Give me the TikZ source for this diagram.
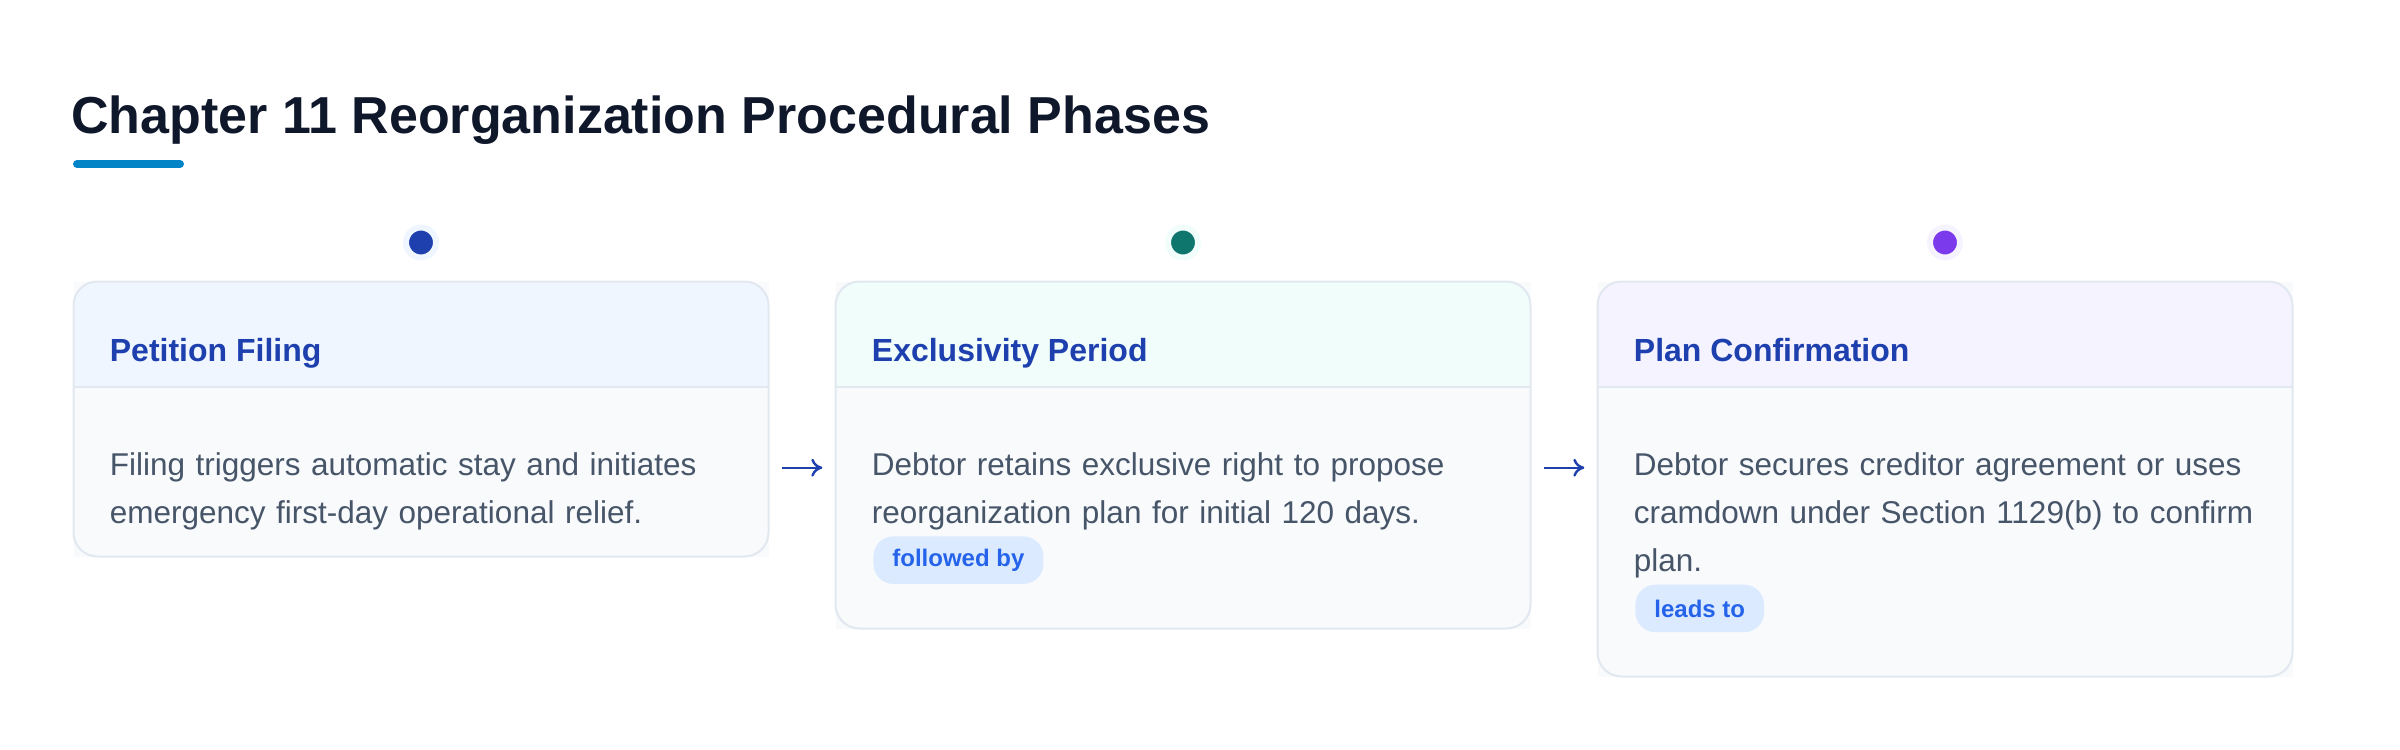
\documentclass[tikz,border=0pt]{standalone}
\usepackage{fontspec}
\setmainfont{Liberation Sans}
\usetikzlibrary{arrows.meta}

\definecolor{r15g23b42}{RGB}{15,23,42}%
\definecolor{r2g132b199}{RGB}{2,132,199}%
\definecolor{r226g232b240}{RGB}{226,232,240}%
\definecolor{r248g250b252}{RGB}{248,250,252}%
\definecolor{r239g246b255}{RGB}{239,246,255}%
\definecolor{r240g253b250}{RGB}{240,253,250}%
\definecolor{r245g243b255}{RGB}{245,243,255}%
\definecolor{r30g64b175}{RGB}{30,64,175}%
\definecolor{r15g118b110}{RGB}{15,118,110}%
\definecolor{r124g58b237}{RGB}{124,58,237}%
\definecolor{r71g85b105}{RGB}{71,85,105}%
\definecolor{r219g234b254}{RGB}{219,234,254}%
\definecolor{r37g99b235}{RGB}{37,99,235}%

\begin{document}
\begin{tikzpicture}[x=0.5pt,y=-0.5pt,
    titletext/.style={anchor=base west, inner sep=0pt, text=r15g23b42, font=\fontsize{26}{30}\selectfont\bfseries},
    cardbox/.style={rectangle, inner sep=0pt, outer sep=0pt, minimum width=347.5pt, anchor=north west, fill=r248g250b252},
    cardline/.style={draw=r226g232b240, line width=1pt, rounded corners=12pt},
    hdrline/.style={draw=r226g232b240, line width=1pt},
    hdrtext/.style={anchor=base west, inner sep=0pt, text=r30g64b175, font=\fontsize{16}{19}\selectfont\bfseries},
    bodytext/.style={anchor=north west, inner sep=0pt, text=r71g85b105, align=left, text width=330pt, font=\fontsize{15.75}{24}\selectfont, execute at begin node=\rule{0pt}{12pt}},
    tagbox/.style={anchor=north west, fill=r219g234b254, text=r37g99b235, rounded corners=10pt, inner xsep=9.5pt, inner ysep=0pt, minimum height=23.75pt, font=\fontsize{12}{14}\selectfont\bfseries},
    phasedot/.style={circle, inner sep=0pt, minimum size=15pt, line width=3pt},
    flow/.style={draw=r30g64b175, line width=1.2pt, shorten <=6.6pt, shorten >=6.6pt, -{Computer Modern Rightarrow[length=5.5pt,width=9pt]}}]
                        \useasboundingbox (0,0) rectangle (2400,750);

                        % Title and its bar
                        \draw (71.000000,133.300000) node [titletext] (title) {Chapter 11 Reorganization Procedural Phases};%
                        \draw [line width=4pt, line cap=round, r2g132b199] (77.000000,164.000000) -- (180.000000,164.000000);%

                        % Drawing card 1
                        \node [cardbox, minimum height=137.5pt] (c1) at (73.500000,281.500000) {};%
                        \begin{scope}
                        \clip [rounded corners=12pt] (c1.north west) rectangle (c1.south east);%
                        \fill [r239g246b255] (c1.north west) rectangle ([yshift=-52.5pt]c1.north east);%
                        \end{scope}
                        \draw [hdrline] ([yshift=-52.5pt]c1.north west) -- ([yshift=-52.5pt]c1.north east);%
                        \draw [cardline] (c1.north west) rectangle (c1.south east);%

                        % Drawing card 2
                        \node [cardbox, minimum height=173.5pt] (c2) at (835.500000,281.500000) {};%
                        \begin{scope}
                        \clip [rounded corners=12pt] (c2.north west) rectangle (c2.south east);%
                        \fill [r240g253b250] (c2.north west) rectangle ([yshift=-52.5pt]c2.north east);%
                        \end{scope}
                        \draw [hdrline] ([yshift=-52.5pt]c2.north west) -- ([yshift=-52.5pt]c2.north east);%
                        \draw [cardline] (c2.north west) rectangle (c2.south east);%

                        % Drawing card 3
                        \node [cardbox, minimum height=197.5pt] (c3) at (1597.500000,281.500000) {};%
                        \begin{scope}
                        \clip [rounded corners=12pt] (c3.north west) rectangle (c3.south east);%
                        \fill [r245g243b255] (c3.north west) rectangle ([yshift=-52.5pt]c3.north east);%
                        \end{scope}
                        \draw [hdrline] ([yshift=-52.5pt]c3.north west) -- ([yshift=-52.5pt]c3.north east);%
                        \draw [cardline] (c3.north west) rectangle (c3.south east);%

                        % Marking the phase dots
                        \path (c1.north) ++(0,-39) node [phasedot, fill=r30g64b175, draw=r239g246b255] (d1) {};%
                        \path (c2.north) ++(0,-39) node [phasedot, fill=r15g118b110, draw=r240g253b250] (d2) {};%
                        \path (c3.north) ++(0,-39) node [phasedot, fill=r124g58b237, draw=r245g243b255] (d3) {};%

                        % Card headings
                        \draw ([xshift=18pt,yshift=-40.1pt]c1.north west) node [hdrtext] (h1) {Petition Filing};%
                        \draw ([xshift=18pt,yshift=-40.1pt]c2.north west) node [hdrtext] (h2) {Exclusivity Period};%
                        \draw ([xshift=18pt,yshift=-40.1pt]c3.north west) node [hdrtext] (h3) {Plan Confirmation};%

                        % Card texts
                        \draw ([xshift=18pt,yshift=-84.75pt]c1.north west) node [bodytext] (b1) {Filing triggers automatic stay and initiates\\emergency first-day operational relief.};%
                        \draw ([xshift=18pt,yshift=-84.75pt]c2.north west) node [bodytext] (b2) {Debtor retains exclusive right to propose\\reorganization plan for initial 120 days.};%
                        \draw ([xshift=18pt,yshift=-84.75pt]c3.north west) node [bodytext] (b3) {Debtor secures creditor agreement or uses\\cramdown under Section 1129(b) to confirm\\plan.};%

                        % Tags
                        \draw ([xshift=18.75pt,yshift=-127.25pt]c2.north west) node [tagbox] (t2) {followed by};%
                        \draw ([xshift=18.75pt,yshift=-151.4pt]c3.north west) node [tagbox] (t3) {leads to};%

                        % Arrows between the cards
                        \coordinate (row) at (0,467.700000);%
                        \draw [flow] (c1.east |- row) -- (c2.west |- row);%
                        \draw [flow] (c2.east |- row) -- (c3.west |- row);%
                    \end{tikzpicture}
\end{document}
